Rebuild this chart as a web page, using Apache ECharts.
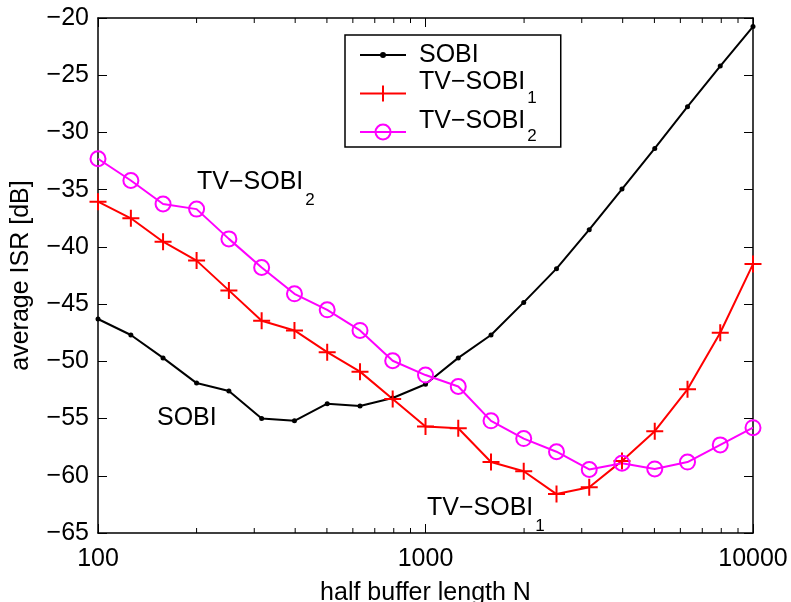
<!DOCTYPE html>
<html>
<head>
<meta charset="utf-8">
<script src="https://cdn.jsdelivr.net/npm/echarts@6.0.0/dist/echarts.min.js"></script>
<style>
  body { margin: 0; background: #fff; }
  #main { width: 791px; height: 602px; }
</style>
</head>
<body>
<div id="main"></div>
<script>
var FONT = '"Liberation Sans", Arial, Helvetica, sans-serif';

var N = [100, 126, 158, 200, 251, 316, 398, 501, 631, 794, 1000,
         1259, 1585, 1995, 2512, 3162, 3981, 5012, 6310, 7943, 10000];
var sobi = [-46.3, -47.7, -49.7, -51.9, -52.6, -55.0, -55.2, -53.7, -53.9, -53.2, -52.0,
            -49.7, -47.7, -44.85, -41.9, -38.5, -34.95, -31.4, -27.75, -24.2, -20.75];
var tvSobi1 = [-36.05, -37.5, -39.55, -41.2, -43.8, -46.45, -47.3, -49.2, -50.9, -53.3, -55.7,
               -55.85, -58.8, -59.6, -61.6, -61.0, -58.7, -56.1, -52.45, -47.5, -41.5];
var tvSobi2 = [-32.3, -34.2, -36.25, -36.7, -39.3, -41.8, -44.1, -45.5, -47.3, -49.95, -51.2,
               -52.2, -55.2, -56.75, -57.9, -59.45, -58.9, -59.4, -58.8, -57.3, -55.8];
var seriesNames = ['SOBI', 'TV\u2212SOBI1', 'TV\u2212SOBI2'];
var minorTicks = [200, 300, 400, 500, 600, 700, 800, 900,
                  2000, 3000, 4000, 5000, 6000, 7000, 8000, 9000];
var xMin = 100, xMax = 10000;
var yMin = -65, yMax = -20, yStep = 5;

function pairs(ys) {
    return N.map(function (n, i) { return [n, ys[i]]; });
}

var PLUS = 'path://M0,-8.5 L0,8.5 M-8.5,0 L8.5,0';

var annRich = {
    m: { fontSize: 25, fontFamily: FONT, verticalAlign: 'top' },
    s: { fontSize: 17, fontFamily: FONT, verticalAlign: 'top', padding: [22, 0, 0, 2] }
};

function annotation(x, y, main, sub) {
    return {
        type: 'text', x: x, y: y, silent: true,
        style: {
            text: '{m|' + main + '}' + (sub ? '{s|' + sub + '}' : ''),
            fill: '#000', verticalAlign: 'top', rich: annRich
        }
    };
}

var myChart = echarts.init(document.getElementById('main'), null, { renderer: 'canvas' });
var option = {
    animation: false,
    backgroundColor: '#fff',
    textStyle: { fontFamily: FONT },
    grid: { left: 98, right: 38, top: 18, bottom: 69, containLabel: false, outerBoundsMode: 'none' },
    legend: {
        orient: 'vertical',
        left: 345, top: 35,
        padding: [0, 24, -5, 14],
        itemGap: -5,
        itemWidth: 46, itemHeight: 18,
        borderColor: '#000', borderWidth: 1.5, borderRadius: 0,
        backgroundColor: '#fff',
        selectedMode: false,
        formatter: function (name) {
            if (name === 'SOBI') return name;
            return '{m|' + name.slice(0, -1) + '}{s|' + name.slice(-1) + '}';
        },
        textStyle: {
            fontSize: 25, fontFamily: FONT, color: '#000', lineHeight: 40,
            padding: [0, 0, 0, 8],
            rich: {
                m: { fontSize: 25, fontFamily: FONT, color: '#000', verticalAlign: 'top', height: 18 },
                s: { fontSize: 17, fontFamily: FONT, color: '#000', verticalAlign: 'top', height: 20, padding: [14.7, 0, 0, 2] }
            }
        },
        data: [
            { name: seriesNames[0], icon: 'path://M0,9 L46,9 M21,9 a2,2 0 1,0 4,0 a2,2 0 1,0 -4,0',
              itemStyle: { color: '#000', borderColor: '#000', borderWidth: 2 } },
            { name: seriesNames[1], icon: 'path://M0,9 L46,9 M23,1 L23,17 M15,9 L31,9',
              itemStyle: { color: 'transparent', borderColor: '#ff0000', borderWidth: 2 } },
            { name: seriesNames[2], icon: 'path://M0,9 L46,9 M15.5,9 a7.5,7.5 0 1,0 15,0 a7.5,7.5 0 1,0 -15,0',
              itemStyle: { color: 'transparent', borderColor: '#ff00ff', borderWidth: 2 } }
        ]
    },
    xAxis: [{
        type: 'log', logBase: 10, min: xMin, max: xMax,
        name: 'half buffer length N', nameLocation: 'middle', nameGap: 48,
        nameTextStyle: { fontSize: 25, fontFamily: FONT, color: '#000' },
        axisLine: { show: true, onZero: false, lineStyle: { color: '#000', width: 1.5 } },
        axisTick: { show: true, inside: true, length: 9, lineStyle: { color: '#000', width: 1 } },
        axisLabel: {
            fontSize: 25, fontFamily: FONT, color: '#000', margin: 14,
            formatter: function (v) { return String(Math.round(v)); }
        },
        splitLine: { show: false }
    }, {
        type: 'log', logBase: 10, min: xMin, max: xMax, position: 'top',
        axisLine: { show: true, onZero: false, lineStyle: { color: '#000', width: 1.5 } },
        axisTick: { show: true, inside: true, length: 9, lineStyle: { color: '#000', width: 1 } },
        axisLabel: { show: false },
        splitLine: { show: false }
    }],
    yAxis: [{
        type: 'value', min: yMin, max: yMax, interval: yStep,
        name: 'average ISR [dB]', nameLocation: 'middle', nameGap: 64,
        nameTextStyle: { fontSize: 25, fontFamily: FONT, color: '#000' },
        axisLine: { show: true, onZero: false, lineStyle: { color: '#000', width: 1.5 } },
        axisTick: { show: true, inside: true, length: 9, lineStyle: { color: '#000', width: 1 } },
        axisLabel: {
            fontSize: 25, fontFamily: FONT, color: '#000', margin: 9,
            formatter: function (v) { return String(v).replace('-', '\u2212'); }
        },
        splitLine: { show: false }
    }, {
        type: 'value', min: yMin, max: yMax, interval: yStep, position: 'right',
        axisLine: { show: true, onZero: false, lineStyle: { color: '#000', width: 1.5 } },
        axisTick: { show: true, inside: true, length: 9, lineStyle: { color: '#000', width: 1 } },
        axisLabel: { show: false },
        splitLine: { show: false }
    }],
    series: [{
        name: seriesNames[0], type: 'line', data: pairs(sobi),
        clip: false, color: '#000',
        symbol: 'circle', symbolSize: 5,
        lineStyle: { color: '#000', width: 2 },
        itemStyle: { color: '#000', borderColor: '#000', borderWidth: 0 }
    }, {
        name: seriesNames[1], type: 'line', data: pairs(tvSobi1),
        clip: false, color: '#ff0000',
        symbol: PLUS, symbolSize: 17,
        lineStyle: { color: '#ff0000', width: 2 },
        itemStyle: { color: 'transparent', borderColor: '#ff0000', borderWidth: 2 }
    }, {
        name: seriesNames[2], type: 'line', data: pairs(tvSobi2),
        clip: false, color: '#ff00ff',
        symbol: 'circle', symbolSize: 15,
        lineStyle: { color: '#ff00ff', width: 2 },
        itemStyle: { color: 'transparent', borderColor: '#ff00ff', borderWidth: 2 }
    }, {
        // minor log ticks on bottom and top edges
        type: 'custom', silent: true, xAxisIndex: 0, yAxisIndex: 0,
        data: minorTicks.map(function (v) { return [v, yMin]; }),
        encode: { x: 0, y: 1 },
        renderItem: function (params, api) {
            var x = api.coord([api.value(0), yMin])[0];
            var cs = params.coordSys;
            var st = { stroke: '#000', lineWidth: 1 };
            return {
                type: 'group',
                children: [
                    { type: 'line', shape: { x1: x, y1: cs.y + cs.height, x2: x, y2: cs.y + cs.height - 5 }, style: st },
                    { type: 'line', shape: { x1: x, y1: cs.y, x2: x, y2: cs.y + 5 }, style: st }
                ]
            };
        }
    }],
    graphic: [
        annotation(197, 170, 'TV\u2212SOBI', '2'),
        annotation(157, 406, 'SOBI', ''),
        annotation(427, 496, 'TV\u2212SOBI', '1')
    ]
};
myChart.setOption(option);
</script>
</body>
</html>
